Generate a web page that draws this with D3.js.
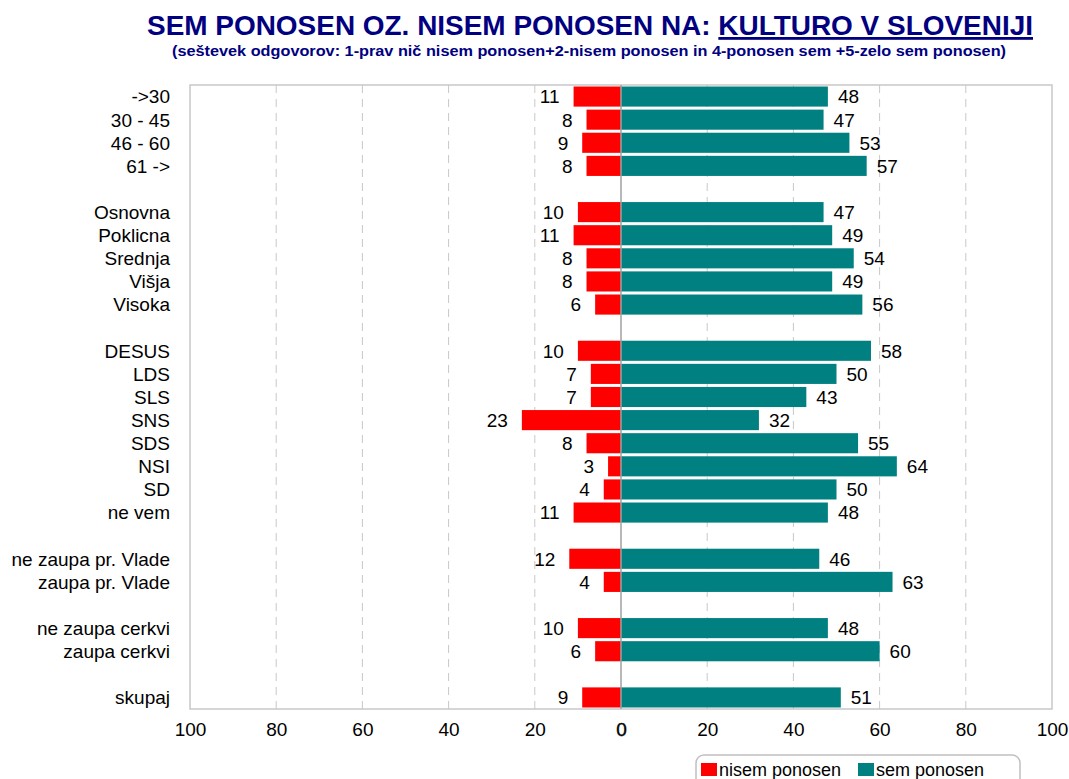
<!DOCTYPE html>
<html>
<head>
<meta charset="utf-8">
<script src="https://cdn.jsdelivr.net/npm/d3@7"></script>
<style>
  body { margin: 0; background: #fff; }
  svg { display: block; font-family: "Liberation Sans", Arial, sans-serif; }
</style>
</head>
<body>
<svg id="chart" width="1069" height="779"></svg>
<script>
// Row labels; empty strings are spacer rows between groups
const categories = [
  "->30", "30 - 45", "46 - 60", "61 ->", "",
  "Osnovna", "Poklicna", "Srednja", "Višja", "Visoka", "",
  "DESUS", "LDS", "SLS", "SNS", "SDS", "NSI", "SD", "ne vem", "",
  "ne zaupa pr. Vlade", "zaupa pr. Vlade", "",
  "ne zaupa cerkvi", "zaupa cerkvi", "",
  "skupaj"
];
// "nisem ponosen" (drawn to the left) and "sem ponosen" (to the right); null on spacer rows
const nisemPonosen = [11, 8, 9, 8, null, 10, 11, 8, 8, 6, null, 10, 7, 7, 23, 8, 3, 4, 11, null, 12, 4, null, 10, 6, null, 9];
const semPonosen   = [48, 47, 53, 57, null, 47, 49, 54, 49, 56, null, 58, 50, 43, 32, 55, 64, 50, 48, null, 46, 63, null, 48, 60, null, 51];
const tickValues = [-100, -80, -60, -40, -20, 0, 20, 40, 60, 80, 100];
const seriesNames = ["nisem ponosen", "sem ponosen"];
const seriesColors = ["#ff0000", "#008080"];

const svg = d3.select("#chart");
const plot = { left: 190, right: 1052, top: 85, bottom: 709 };

const rows = categories.map((c, i) => ({ key: "r" + i, label: c, neg: nisemPonosen[i], pos: semPonosen[i] }));

const x = d3.scaleLinear().domain([-100, 100]).range([plot.left, plot.right]);
const y = d3.scaleBand().domain(rows.map(r => r.key)).range([plot.top, plot.bottom])
  .paddingInner(0.13).paddingOuter(0.065);

// Title
const title = svg.append("text")
  .attr("x", 590).attr("y", 35)
  .attr("text-anchor", "middle")
  .attr("font-size", 28).attr("font-weight", "bold")
  .attr("fill", "#000080")
  .attr("textLength", 886).attr("lengthAdjust", "spacingAndGlyphs");
title.append("tspan").text("SEM PONOSEN OZ. NISEM PONOSEN NA: ");
title.append("tspan").attr("text-decoration", "underline").text("KULTURO V SLOVENIJI");

svg.append("text")
  .attr("x", 589).attr("y", 56)
  .attr("text-anchor", "middle")
  .attr("font-size", 14).attr("font-weight", "bold")
  .attr("fill", "#000080")
  .attr("textLength", 834).attr("lengthAdjust", "spacingAndGlyphs")
  .text("(seštevek odgovorov: 1-prav nič nisem ponosen+2-nisem ponosen in 4-ponosen sem +5-zelo sem ponosen)");

// Dashed gridlines
svg.append("g").selectAll("line")
  .data(tickValues.filter(t => t !== 0 && Math.abs(t) !== 100))
  .join("line")
  .attr("x1", d => x(d)).attr("x2", d => x(d))
  .attr("y1", plot.top).attr("y2", plot.bottom)
  .attr("stroke", "#c8c8c8").attr("stroke-width", 1)
  .attr("stroke-dasharray", "8,6");

// Plot frame
svg.append("rect")
  .attr("x", plot.left).attr("y", plot.top)
  .attr("width", plot.right - plot.left).attr("height", plot.bottom - plot.top)
  .attr("fill", "none").attr("stroke", "#c8c8c8").attr("stroke-width", 1.5);

const dataRows = rows.filter(r => r.label !== "");

// Bars
svg.append("g").selectAll("rect")
  .data(dataRows).join("rect")
  .attr("x", d => x(-d.neg)).attr("y", d => y(d.key))
  .attr("width", d => x(0) - x(-d.neg)).attr("height", y.bandwidth())
  .attr("fill", seriesColors[0]);
svg.append("g").selectAll("rect")
  .data(dataRows).join("rect")
  .attr("x", x(0)).attr("y", d => y(d.key))
  .attr("width", d => x(d.pos) - x(0)).attr("height", y.bandwidth())
  .attr("fill", seriesColors[1]);

// Zero line
svg.append("line")
  .attr("x1", x(0)).attr("x2", x(0))
  .attr("y1", plot.top).attr("y2", plot.bottom)
  .attr("stroke", "#a0a0a0").attr("stroke-width", 1.5);

// Value labels
const fs = 19;
svg.append("g").selectAll("text")
  .data(dataRows).join("text")
  .attr("x", d => x(-d.neg) - 14).attr("y", d => y(d.key) + y.bandwidth() / 2)
  .attr("dy", "0.36em").attr("text-anchor", "end")
  .attr("font-size", fs).attr("fill", "#000")
  .text(d => d.neg);
svg.append("g").selectAll("text")
  .data(dataRows).join("text")
  .attr("x", d => x(d.pos) + 10).attr("y", d => y(d.key) + y.bandwidth() / 2)
  .attr("dy", "0.36em").attr("text-anchor", "start")
  .attr("font-size", fs).attr("fill", "#000")
  .text(d => d.pos);

// Category labels
svg.append("g").selectAll("text")
  .data(dataRows).join("text")
  .attr("x", 170).attr("y", d => y(d.key) + y.bandwidth() / 2)
  .attr("dy", "0.36em").attr("text-anchor", "end")
  .attr("font-size", fs).attr("fill", "#000")
  .text(d => d.label);

// X axis
const xAxis = svg.append("g")
  .attr("transform", `translate(0,${plot.bottom})`)
  .call(d3.axisBottom(x).tickValues(tickValues).tickSize(0).tickPadding(14).tickFormat(d => Math.abs(d)));
xAxis.select(".domain").remove();
xAxis.selectAll("text").attr("font-size", fs).attr("font-family", "Liberation Sans, Arial, sans-serif").attr("fill", "#000")
  .attr("stroke", d => d === 0 ? "#000" : "none").attr("stroke-width", 0.4);

// Legend
const lg = svg.append("g").attr("transform", "translate(696,755)");
lg.append("rect").attr("x", 0).attr("y", 0).attr("width", 324).attr("height", 40)
  .attr("rx", 8).attr("fill", "#fff").attr("stroke", "#c0c0c0").attr("stroke-width", 1.5);
const legendX = [5, 162];
seriesNames.forEach((name, i) => {
  lg.append("rect").attr("x", legendX[i]).attr("y", 8).attr("width", 16).attr("height", 13).attr("fill", seriesColors[i]);
  lg.append("text").attr("x", legendX[i] + 18).attr("y", 21)
    .attr("font-size", 18).attr("fill", "#000").text(name);
});
</script>
</body>
</html>
